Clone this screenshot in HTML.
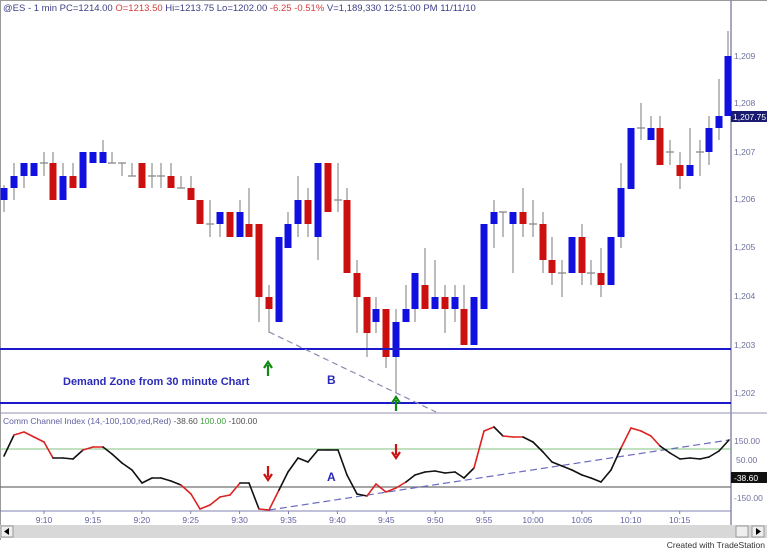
<!DOCTYPE html>
<html><head><meta charset="utf-8"><style>
html,body{margin:0;padding:0;background:#fff;}
svg{display:block;font-family:"Liberation Sans",sans-serif;}
</style></head><body>
<svg id="s" width="767" height="551" viewBox="0 0 767 551" xmlns="http://www.w3.org/2000/svg">
<rect x="0" y="0" width="767" height="551" fill="#fff"/>
<line x1="0.5" y1="0" x2="0.5" y2="540" stroke="#999"/>
<line x1="0" y1="0.5" x2="767" y2="0.5" stroke="#999"/>
<line x1="731" y1="0" x2="731" y2="525" stroke="#8a8aa8" stroke-width="1.5"/>
<text x="3" y="11" font-size="9.5" fill="#404088">@ES - 1 min  PC=1214.00  <tspan fill="#d04040">O=1213.50</tspan>  Hi=1213.75  Lo=1202.00  <tspan fill="#d04040">-6.25  -0.51%</tspan>  V=1,189,330  12:51:00 PM  11/11/10</text>
<g font-size="8.5" fill="#7070a0">
<text x="734" y="59">1,209</text><text x="734" y="106">1,208</text>
<text x="734" y="155">1,207</text><text x="734" y="202">1,206</text>
<text x="734" y="250">1,205</text><text x="734" y="299">1,204</text>
<text x="734" y="348">1,203</text><text x="734" y="396">1,202</text>
</g>
<rect x="731" y="111" width="36" height="11" fill="#1a1a70"/>
<text x="733" y="120" font-size="8.5" fill="#fff">1,207.75</text>
<g id="candles"></g>
<line x1="0" y1="349" x2="731" y2="349" stroke="#1a1acc" stroke-width="2"/>
<line x1="0" y1="403" x2="731" y2="403" stroke="#1a1acc" stroke-width="2"/>
<line x1="269" y1="332" x2="436" y2="412" stroke="#8a8ab0" stroke-width="1.2" stroke-dasharray="6,4"/>
<text x="63" y="385" font-size="11" font-weight="bold" fill="#2a2ab8">Demand Zone from 30 minute Chart</text>
<text x="327" y="384" font-size="12" font-weight="bold" fill="#2a2ab8">B</text>
<path d="M268 376 V365 M264 368 L268 362 L272 368" stroke="#118811" stroke-width="2.2" fill="none"/>
<path d="M396 411 V400 M392 403 L396 397 L400 403" stroke="#118811" stroke-width="2.2" fill="none"/>
<line x1="0" y1="413" x2="767" y2="413" stroke="#9090b0"/>
<text x="3" y="424" font-size="8.5" fill="#6060a0">Comm Channel Index (14,-100,100,red,Red)   <tspan fill="#505050">-38.60</tspan>  <tspan fill="#40a040">100.00</tspan>  <tspan fill="#505050">-100.00</tspan></text>
<line x1="0" y1="449" x2="731" y2="449" stroke="#80c080"/>
<line x1="0" y1="487" x2="731" y2="487" stroke="#707070" stroke-width="1.2"/>
<line x1="0" y1="511" x2="731" y2="511" stroke="#8080b0"/>
<g font-size="8.5" fill="#7070a0">
<text x="734" y="444">150.00</text><text x="736" y="463">50.00</text><text x="734" y="501">-150.00</text>
</g>
<rect x="731" y="472" width="36" height="11" fill="#111"/>
<text x="734" y="481" font-size="8.5" fill="#fff">-38.60</text>
<line x1="269" y1="510" x2="729" y2="440" stroke="#6a6ac0" stroke-width="1.2" stroke-dasharray="7,4"/>
<g id="cci"></g>
<text x="327" y="481" font-size="12" font-weight="bold" fill="#2a2ab8">A</text>
<path d="M268 466 V477 M264 474 L268 480 L272 474" stroke="#cc1111" stroke-width="2.2" fill="none"/>
<path d="M396 444 V455 M392 452 L396 458 L400 452" stroke="#cc1111" stroke-width="2.2" fill="none"/>
<g id="ticks" font-size="8.5" fill="#6060a0"></g>
<rect x="0" y="525" width="731" height="13" fill="#d8d8d8"/>
<rect x="1" y="526" width="12" height="11" fill="#eee" stroke="#999"/>
<path d="M9 528 L4 531.5 L9 535Z" fill="#000"/>
<rect x="731" y="525" width="36" height="13" fill="#d8d8d8"/>
<rect x="736" y="526" width="12" height="11" fill="#eee" stroke="#999"/>
<rect x="752" y="526" width="12" height="11" fill="#eee" stroke="#999"/>
<path d="M756 528 L761 531.5 L756 535Z" fill="#000"/>
<text x="765" y="548" font-size="8.5" fill="#333" text-anchor="end">Created with TradeStation</text>
</svg>
<script>
var NS="http://www.w3.org/2000/svg";
function el(p,t,a){var e=document.createElementNS(NS,t);for(var k in a)e.setAttribute(k,a[k]);p.appendChild(e);return e;}
// x, bodyTop, bodyBottom, wickTop, wickBottom, color(b/r/d)
var C=[
[4,188,200,185,212,'b'],[14,176,188,163,200,'b'],[24,163,176,163,188,'b'],[34,163,176,163,176,'b'],
[44,163,163,152,176,'d'],[53,163,200,152,200,'r'],[63,176,200,163,200,'b'],[73,176,188,163,188,'r'],
[83,152,188,152,188,'b'],[93,152,163,152,163,'b'],[103,152,163,140,163,'b'],[112,163,163,152,163,'d'],
[122,163,163,163,176,'d'],[132,176,176,163,176,'d'],[142,163,188,163,188,'r'],[152,176,176,163,188,'d'],
[161,176,176,163,188,'d'],[171,176,188,163,188,'r'],[181,188,188,176,188,'d'],[191,188,200,176,200,'r'],
[200,200,224,200,224,'r'],[210,224,224,200,237,'d'],[220,212,224,212,237,'b'],[230,212,237,212,237,'r'],
[240,212,237,200,237,'b'],[249,224,237,188,237,'r'],[259,224,297,224,322,'r'],[269,297,309,285,333,'r'],
[279,237,322,237,322,'b'],[288,224,248,212,248,'b'],[298,200,224,176,237,'b'],[308,200,224,188,237,'r'],
[318,163,237,163,260,'b'],[328,163,212,163,212,'r'],[338,200,200,163,212,'d'],[347,200,273,188,273,'r'],
[357,273,297,260,333,'r'],[367,297,333,297,357,'r'],[376,309,322,297,333,'b'],[386,309,357,309,368,'r'],
[396,322,357,309,393,'b'],[406,309,322,285,322,'b'],[415,273,309,273,322,'b'],[425,285,309,248,309,'r'],
[435,297,309,260,309,'b'],[445,297,309,285,333,'r'],[455,297,309,285,322,'b'],[464,309,345,285,345,'r'],
[474,297,345,297,345,'b'],[484,224,309,224,309,'b'],[494,212,224,200,248,'b'],[503,212,212,212,237,'d'],
[513,212,224,212,273,'b'],[523,212,224,188,237,'r'],[533,224,224,200,237,'d'],[543,224,260,212,273,'r'],
[552,260,273,237,285,'r'],[562,273,273,260,297,'d'],[572,237,273,237,273,'b'],[582,237,273,224,285,'r'],
[591,273,273,260,285,'d'],[601,273,285,248,297,'r'],[611,237,285,237,285,'b'],[621,188,237,163,248,'b'],
[631,128,189,128,189,'b'],[641,128,128,103,140,'d'],[651,128,140,116,140,'b'],[660,128,165,116,165,'r'],
[670,152,152,140,165,'d'],[680,165,176,152,189,'r'],[690,165,176,128,176,'b'],[700,152,152,140,176,'d'],
[709,128,152,116,165,'b'],[719,116,128,79,140,'b'],[728,56,116,31,116,'b']];
var g=document.getElementById('candles');
C.forEach(function(c){
 el(g,'line',{x1:c[0],x2:c[0],y1:c[3],y2:c[4],stroke:'#999','stroke-width':1.3});
 if(c[5]=='d'){el(g,'line',{x1:c[0]-4,x2:c[0]+4,y1:c[1],y2:c[1],stroke:'#888','stroke-width':1.3});}
 else el(g,'rect',{x:c[0]-3.5,y:c[1],width:7,height:Math.max(c[2]-c[1],2),fill:c[5]=='b'?'#1010e0':'#cc1010'});
});
var P=[[4,456,0],[14,435,0],[24,432,1],[34,437,1],[44,442,1],[53,458,1],[63,458,0],[73,459,0],[83,450,0],[93,447,1],[103,447,1],[112,454,0],[122,463,0],[132,470,0],[142,483,0],[152,478,0],[161,478,0],[171,481,0],[181,485,0],[191,494,1],[200,509,1],[210,505,1],[220,497,1],[230,495,1],[240,483,1],[249,483,0],[259,509,0],[269,510,1],[279,490,1],[288,472,0],[298,458,0],[308,462,0],[318,450,0],[328,450,0],[338,450,0],[347,475,0],[357,494,0],[367,496,0],[376,484,1],[386,492,1],[396,488,1],[406,482,1],[415,475,0],[425,472,0],[435,471,0],[445,473,0],[455,472,0],[464,478,0],[474,468,0],[484,431,1],[494,427,1],[503,436,0],[513,437,1],[523,437,1],[533,442,0],[543,452,0],[552,462,0],[562,466,0],[572,470,0],[582,475,0],[591,478,0],[601,482,0],[611,470,0],[621,448,0],[631,428,1],[641,431,1],[651,436,1],[660,446,1],[670,453,0],[680,459,0],[690,458,0],[700,459,0],[709,457,0],[719,451,0],[729,440,0]];
var q=document.getElementById('cci');
for(var i=1;i<P.length;i++){el(q,'line',{x1:P[i-1][0],y1:P[i-1][1],x2:P[i][0],y2:P[i][1],stroke:P[i][2]?'#dd2222':'#111','stroke-width':1.6,'stroke-linecap':'round'});}
var T=document.getElementById('ticks');
['9:10','9:15','9:20','9:25','9:30','9:35','9:40','9:45','9:50','9:55','10:00','10:05','10:10','10:15'].forEach(function(t,i){
 var x=44+i*48.9;el(T,'line',{x1:x,x2:x,y1:511,y2:514,stroke:'#8080b0'});
 var e=el(T,'text',{x:x,y:523,'text-anchor':'middle'});e.textContent=t;});
</script>
</body></html>
